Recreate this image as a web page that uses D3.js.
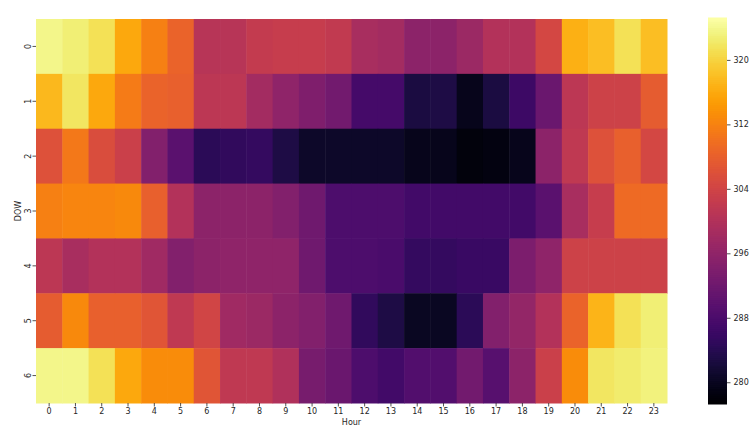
<!DOCTYPE html>
<html><head><meta charset="utf-8">
<script src="https://cdn.jsdelivr.net/npm/d3@7"></script>
<style>body{margin:0;background:#fff}svg{display:block;font-family:"DejaVu Sans",sans-serif}</style>
</head><body>
<script>
const hours = d3.range(24).map(String);
const days = ["0","1","2","3","4","5","6"];
const dow0 = [323.8,322.8,321.4,316,311.8,308.4,300.8,300.8,302.2,302.7,302.7,302,298.9,298.4,295.5,295.5,297.4,300.3,300.3,304.6,316.6,318,321.4,318];
const dow1 = [317.5,321.9,316,311.3,308.4,308,301.3,301.3,298.4,296,294,292.6,287.4,287.4,282.6,283,279.7,282.6,286.4,291.7,301.3,303.6,303.6,307.5];
const dow2 = [306,310.8,305.5,303.2,294.5,289.8,284.5,285,285.5,283,280.7,280.7,280.7,280.7,279.7,279.7,278.3,278.7,279.7,295.5,301.7,306,308,304.6];
const dow3 = [311.8,312.3,312.3,312.7,308,300.3,295.5,295.5,295.5,294.5,292.1,288.3,288.3,288.3,286.9,286.9,286.9,286.9,286.9,289.8,298.9,302.7,309.4,309.4];
const dow4 = [301.3,298.9,300.3,300.3,297.9,294.5,295.5,296,296,296,292.1,288.3,288.3,287.9,285.5,285.5,286,286,293.6,296,303.6,303.6,303.6,303.6];
const dow5 = [307.5,312.7,308,308,306.5,301.7,304.1,297.9,297.4,295.5,294.5,292.1,285,283,280.2,280.2,284.5,294.5,296.5,300.3,308.4,317,321.4,322.8];
const dow6 = [323.8,323.8,321.4,316,313.2,313.2,306.5,301.7,301.7,299.8,293.1,291.7,288.3,286.9,288.8,288.8,292.6,289.3,295.5,303.2,313.2,321.9,322.4,323.3];
const rows = [dow0,dow1,dow2,dow3,dow4,dow5,dow6];
const cbTicks = [280,288,296,304,312,320];
const vmin = 277.3, vmax = 325.2;

const W = 752, H = 439;
const svg = d3.select("body").append("svg").attr("width",W).attr("height",H);
const L = 36, R = 667, T = 19, B = 403;
const x = d3.scaleBand().domain(hours).range([L,R]);
const y = d3.scaleBand().domain(days).range([T,B]);
const color = d3.scaleSequential(d3.interpolateInferno).domain([vmin,vmax]);

const cells = [];
rows.forEach((r,i)=>r.forEach((v,j)=>cells.push({d:days[i],h:hours[j],v})));
svg.append("g").selectAll("rect").data(cells).join("rect")
  .attr("x",c=>x(c.h)).attr("y",c=>y(c.d))
  .attr("width",x.bandwidth()+0.5).attr("height",y.bandwidth()+0.5)
  .attr("fill",c=>color(c.v));

const tc = "#262626";
const xa = svg.append("g").attr("transform",`translate(0,${B})`)
  .call(d3.axisBottom(x).tickSize(3.5).tickPadding(2));
xa.select(".domain").remove();
xa.selectAll("text").attr("font-size",8).attr("fill",tc).attr("font-family","DejaVu Sans");
xa.selectAll("line").attr("stroke",tc).attr("stroke-width",0.8);

const ya = svg.append("g").attr("transform",`translate(${L},0)`)
  .call(d3.axisLeft(y).tickSize(3.5).tickPadding(0));
ya.select(".domain").remove();
ya.selectAll("line").attr("stroke",tc).attr("stroke-width",0.8);
ya.selectAll("text").attr("font-size",8).attr("fill",tc).attr("font-family","DejaVu Sans")
  .attr("text-anchor","middle").attr("dy","0.35em").attr("x",0)
  .attr("transform","translate(-8,0) rotate(-90)");

svg.append("text").attr("x",(L+R)/2).attr("y",425).attr("text-anchor","middle")
  .attr("font-size",8).attr("fill",tc).text("Hour");
svg.append("text").attr("transform",`translate(18,${(T+B)/2}) rotate(-90)`).attr("text-anchor","middle")
  .attr("dy","0.35em").attr("font-size",8).attr("fill",tc).text("DOW");

// colorbar
const cbx = 708, cbw = 19, cbT = 18, cbB = 404;
const cy = d3.scaleLinear().domain([vmin,vmax]).range([cbB,cbT]);
const steps = d3.range(0,200).map(i=>vmin+(vmax-vmin)*i/200);
const stepH = (cbB-cbT)/200;
svg.append("g").selectAll("rect").data(steps).join("rect")
  .attr("x",cbx).attr("width",cbw)
  .attr("y",v=>cy(v)-stepH-0.5).attr("height",stepH+1)
  .attr("fill",v=>color(v+(vmax-vmin)/400));
const ca = svg.append("g").attr("transform",`translate(${cbx+cbw},0)`)
  .call(d3.axisRight(cy).tickValues(cbTicks).tickSize(3.5).tickPadding(3));
ca.select(".domain").remove();
ca.selectAll("line").attr("stroke",tc).attr("stroke-width",0.8);
ca.selectAll("text").attr("font-size",8).attr("fill",tc).attr("font-family","DejaVu Sans");
</script>
</body></html>
